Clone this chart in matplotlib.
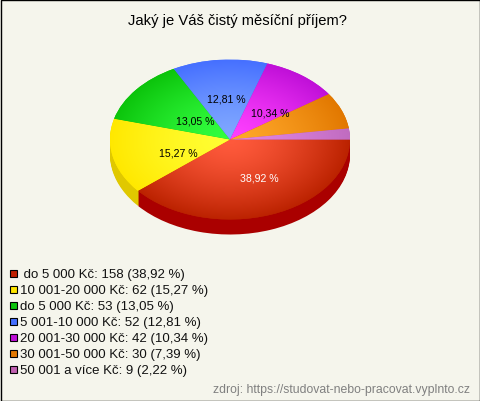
import numpy as np
import matplotlib
matplotlib.use('Agg')
import matplotlib.pyplot as plt
from matplotlib.patches import Rectangle

plt.rcParams['font.family'] = ['Liberation Sans', 'DejaVu Sans']

# data
names = [' do 5 000 Kč', '10 001-20 000 Kč', 'do 5 000 Kč', '5 001-10 000 Kč',
         '20 001-30 000 Kč', '30 001-50 000 Kč', '50 001 a více Kč']
counts = [158, 62, 53, 52, 42, 30, 9]
percents = ['38,92', '15,27', '13,05', '12,81', '10,34', '7,39', '2,22']

# colours
inner = ['#ff5a3c', '#ffff33', '#33ff40', '#80a8ff', '#ff40ff', '#ffa82a', '#e285e2']
outer = ['#bb2200', '#ffe800', '#0cc40c', '#4670ff', '#c010d8', '#e27800', '#c06cc0']
side = ['#aa0000', '#e0c800', '#0a9a0a', '#3050c0', '#9010a0', '#b86000', '#a050a0']
swatch = ['#c02000', '#ffe600', '#0cc40c', '#4670ff', '#c010d8', '#e27800', '#c060b0']
bg = '#f5f5ec'

# pie labels, pixel position of the text
label_text = ['38,92 %', '15,27 %', '13,05 %', '12,81 %', '10,34 %']
label_x = [259, 178, 195, 226, 270]
label_y = [179, 154, 121, 100, 114]
label_col = ['white', 'black', 'black', 'black', 'black']

W, H = 480, 402
cx, cy, rx, ry, depth = 230, 140.5, 120, 80, 15

fig = plt.figure(figsize=(W / 100, H / 100), dpi=100, facecolor=bg)

# pie axes, radius 1 squashed to the ellipse
ax = fig.add_axes([0, 0, 1, 1])

# side wall, stacked copies of the pie going up
for d in range(depth, 0, -1):
    ax.pie(counts, colors=side, startangle=0, counterclock=False,
           center=(0, -d / ry), radius=1, wedgeprops={'linewidth': 0})

wedges, _ = ax.pie(counts, colors=outer, startangle=0, counterclock=False,
                   center=(0, 0), radius=1, wedgeprops={'linewidth': 0})

# radial gradient on every slice
gx, gy = np.meshgrid(np.linspace(-1, 1, 400), np.linspace(-1, 1, 400))
rr = np.clip(np.sqrt(gx ** 2 + gy ** 2), 0, 1)[..., None] ** 1.4
for w, c1, c2 in zip(wedges, inner, outer):
    a = np.array(matplotlib.colors.to_rgb(c1))
    b = np.array(matplotlib.colors.to_rgb(c2))
    img = ax.imshow(a + (b - a) * rr, extent=(-1, 1, -1, 1), origin='lower',
                    aspect='auto', zorder=2, interpolation='bilinear')
    img.set_clip_path(w)

ax.set_aspect('auto')
ax.set_xlim((0 - cx) / rx, (W - cx) / rx)
ax.set_ylim((cy - H) / ry, (cy - 0) / ry)
ax.axis('off')

# overlay in pixels for the text
ov = fig.add_axes([0, 0, 1, 1], facecolor='none')
ov.set_xlim(0, W)
ov.set_ylim(H, 0)
ov.axis('off')

ov.text(237, 21, 'Jaký je Váš čistý měsíční příjem?', ha='center', va='center',
        fontsize=10.6, color='black')

for x, y, t, c in zip(label_x, label_y, label_text, label_col):
    ov.text(x, y, t, ha='center', va='center', fontsize=7.6, color=c)

# legend
for i, (n, v, p) in enumerate(zip(names, counts, percents)):
    y = 274 + i * 16.05
    ov.add_patch(Rectangle((9.5, y - 3.5), 7, 7, facecolor=swatch[i],
                           edgecolor='black', linewidth=0.8))
    ov.text(20, y + 1, n + ': %d (%s %%)' % (v, p), ha='left', va='center',
            fontsize=9.5, color='#111111')

ov.text(470, 390, 'zdroj: https://studovat-nebo-pracovat.vyplnto.cz', ha='right',
        va='center', fontsize=8.8, color='#808080')

# frame
ov.add_patch(Rectangle((0.5, 0.5), W - 1, H - 1, facecolor='none', edgecolor='#000000',
                       linewidth=1))

fig.savefig('out.png', dpi=100, facecolor=bg)
